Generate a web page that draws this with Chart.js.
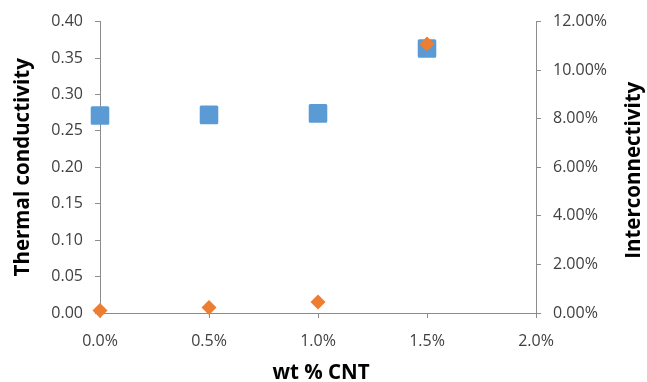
<!DOCTYPE html>
<html>
<head>
<meta charset="utf-8">
<script src="https://cdn.jsdelivr.net/npm/chart.js@4/dist/chart.umd.min.js"></script>
<style>
  html, body { margin: 0; padding: 0; background: #ffffff; }
  #wrap { width: 647px; height: 382px; }
</style>
</head>
<body>
<div id="wrap"><canvas id="c" width="647" height="382"></canvas></div>
<script>
// CNT loading (weight fraction)
const cntLoading = [0.000, 0.005, 0.010, 0.015];
// Thermal conductivity (left axis)
const thermalConductivity = [0.271, 0.272, 0.274, 0.363];
// Interconnectivity (right axis, fraction)
const interconnectivity = [0.0010, 0.0023, 0.0045, 0.1108];

const xTitle = 'wt % CNT';
const leftTitle = 'Thermal conductivity';
const rightTitle = 'Interconnectivity';

const tickFont = { family: "'Open Sans', sans-serif", size: 16 };
const titleFont = "bold 20.5px 'Open Sans', sans-serif";
const axisColor = '#8c8c8c';
const tickColor = '#404040';

const toPoints = (xs, ys) => xs.map((x, i) => ({ x: x, y: ys[i] }));

// Axis titles: all three read bottom-to-top / left-to-right
const axisTitles = {
  id: 'axisTitles',
  afterDraw(chart) {
    const { ctx, chartArea: a } = chart;
    ctx.save();
    ctx.fillStyle = '#000000';
    ctx.font = titleFont;
    ctx.textAlign = 'center';
    ctx.textBaseline = 'middle';
    ctx.fillText(xTitle, (a.left + a.right) / 2 + 3, a.bottom + 60);
    ctx.save();
    ctx.translate(a.left - 77, (a.top + a.bottom) / 2);
    ctx.rotate(-Math.PI / 2);
    ctx.fillText(leftTitle, 0, 0);
    ctx.restore();
    ctx.save();
    ctx.translate(a.right + 98, (a.top + a.bottom) / 2 + 3);
    ctx.rotate(-Math.PI / 2);
    ctx.fillText(rightTitle, 0, 0);
    ctx.restore();
    ctx.restore();
  }
};

// Slightly rounded marker corners
const roundMarkers = {
  id: 'roundMarkers',
  beforeDatasetsDraw(chart) { chart.ctx.lineJoin = 'round'; }
};

new Chart(document.getElementById('c'), {
  type: 'scatter',
  data: {
    datasets: [
      {
        label: rightTitle,
        data: toPoints(cntLoading, interconnectivity),
        yAxisID: 'yRight',
        clip: false,
        pointStyle: 'rectRot',
        pointRadius: 7.5,
        pointBorderWidth: 0,
        backgroundColor: '#ED7D31',
        borderColor: '#ED7D31'
      },
      {
        label: leftTitle,
        data: toPoints(cntLoading, thermalConductivity),
        yAxisID: 'yLeft',
        clip: false,
        pointStyle: 'rect',
        pointRadius: 11,
        pointBorderWidth: 3,
        backgroundColor: '#5B9BD5',
        borderColor: '#5B9BD5'
      }
    ]
  },
  options: {
    responsive: false,
    animation: false,
    events: [],
    layout: { padding: { top: 21, left: 0, right: 0, bottom: 0 } },
    plugins: { legend: { display: false }, tooltip: { enabled: false } },
    scales: {
      x: {
        type: 'linear',
        position: 'bottom',
        min: 0, max: 0.02,
        afterFit(s) { s.height = 69; },
        ticks: {
          stepSize: 0.005,
          font: tickFont, color: tickColor, padding: 14,
          callback: v => (v * 100).toFixed(1) + '%'
        },
        grid: { drawOnChartArea: false, drawTicks: true, tickLength: 5, color: axisColor },
        border: { color: axisColor, width: 1 }
      },
      yLeft: {
        type: 'linear',
        position: 'left',
        min: 0, max: 0.4,
        afterFit(s) { s.width = 100; },
        ticks: {
          stepSize: 0.05,
          font: tickFont, color: tickColor, padding: 12,
          callback: v => v.toFixed(2)
        },
        grid: { drawOnChartArea: false, drawTicks: true, tickLength: 5, color: axisColor },
        border: { color: axisColor, width: 1 }
      },
      yRight: {
        type: 'linear',
        position: 'right',
        min: 0, max: 0.12,
        afterFit(s) { s.width = 111; },
        ticks: {
          stepSize: 0.02,
          font: tickFont, color: tickColor, padding: 12,
          callback: v => (v * 100).toFixed(2) + '%'
        },
        grid: { drawOnChartArea: false, drawTicks: true, tickLength: 5, color: axisColor },
        border: { color: axisColor, width: 1 }
      }
    }
  },
  plugins: [axisTitles, roundMarkers]
});
</script>
</body>
</html>
